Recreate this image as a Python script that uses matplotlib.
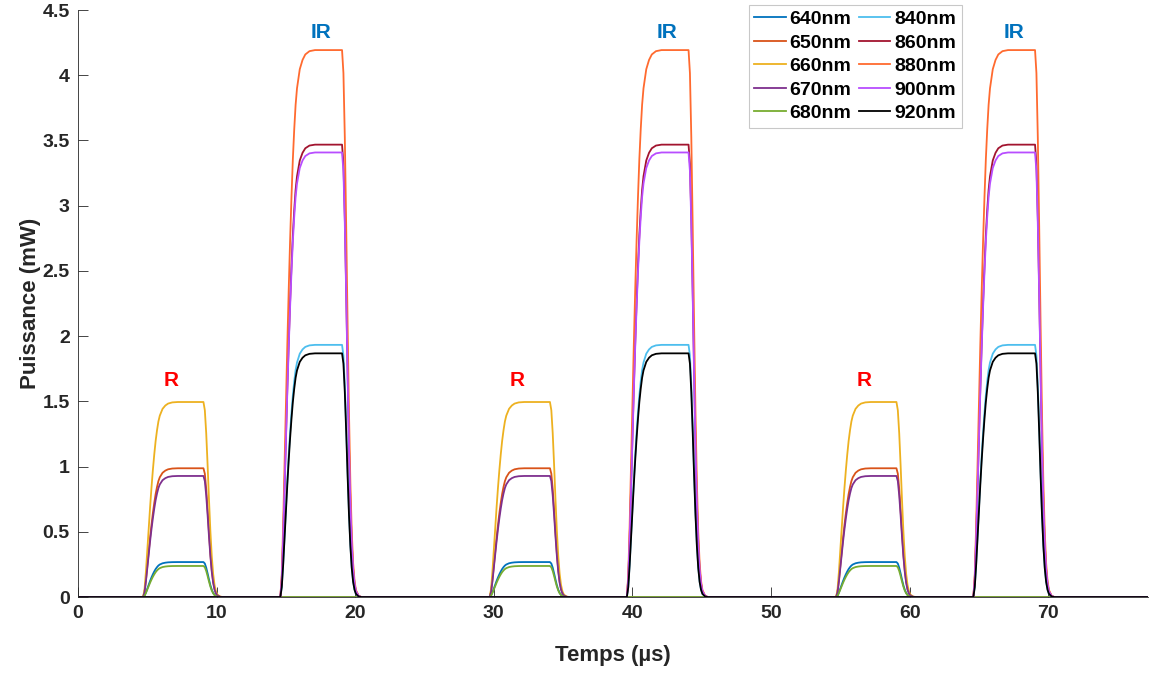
import numpy as np
import matplotlib
matplotlib.use('Agg')
import matplotlib.pyplot as plt

plt.rcParams['font.family'] = ['Liberation Sans', 'DejaVu Sans']
plt.rcParams['font.weight'] = 'bold'

# wavelengths and plateau powers (mW)
red_labels = ['640nm', '650nm', '660nm', '670nm', '680nm']
red_power = [0.268, 0.987, 1.495, 0.928, 0.238]
red_colors = ['#0072BD', '#D95319', '#EDB120', '#7E2F8E', '#77AC30']

ir_labels = ['840nm', '860nm', '880nm', '900nm', '920nm']
ir_power = [1.933, 3.468, 4.193, 3.408, 1.868]
ir_colors = ['#4DBEEE', '#A2142F', '#FF6A2F', '#B84DFF', '#000000']

# pulse timing (us)
period = 25.0
n_pulses = 3
red_on, red_off = 4.7, 9.05
ir_on, ir_off = 14.6, 19.05
t_end = 77.2

# normalised edge shapes (time offset in us, level)
rise_t = [0, 0.1, 0.2, 0.3, 0.4, 0.5, 0.6, 0.7, 0.8, 0.9, 1.0, 1.1, 1.2, 1.4, 1.6, 1.8, 2.1, 2.5]
rise_v = [0, 0.04, 0.13, 0.24, 0.35, 0.46, 0.56, 0.65, 0.73, 0.8, 0.855, 0.9, 0.93, 0.965, 0.982, 0.992, 0.998, 1.0]
fall_t = [0, 0.1, 0.2, 0.3, 0.4, 0.5, 0.6, 0.7, 0.8, 0.9, 1.0, 1.2, 1.4]
fall_v = [1, 0.958, 0.84, 0.677, 0.5, 0.338, 0.21, 0.119, 0.062, 0.03, 0.013, 0.002, 0]

# annotation positions
r_text_x = [6.7, 31.7, 56.7]
ir_text_x = [17.5, 42.5, 67.5]


def pulse_train(t_on, t_off, amp):
    ts = [0.0]
    vs = [0.0]
    for k in range(n_pulses):
        start = t_on + k * period
        stop = t_off + k * period
        for dt, v in zip(rise_t, rise_v):
            ts.append(start + dt)
            vs.append(amp * v)
        for dt, v in zip(fall_t, fall_v):
            ts.append(stop + dt)
            vs.append(amp * v)
    ts.append(t_end)
    vs.append(0.0)
    return ts, vs


fig = plt.figure(figsize=(11.54, 6.73), dpi=100)
ax = fig.add_axes([0.0676, 0.1129, 0.9272, 0.8722])

for lab, p, c in zip(red_labels, red_power, red_colors):
    t, v = pulse_train(red_on, red_off, p)
    ax.plot(t, v, color=c, lw=1.3, label=lab)
for lab, p, c in zip(ir_labels, ir_power, ir_colors):
    t, v = pulse_train(ir_on, ir_off, p)
    ax.plot(t, v, color=c, lw=1.3, label=lab)

for x in r_text_x:
    ax.text(x, 1.66, 'R', color='#FF0000', fontsize=15, fontweight='bold', ha='center', va='center')
for x in ir_text_x:
    ax.text(x, 4.33, 'IR', color='#0072BD', fontsize=15, fontweight='bold', ha='center', va='center')

ax.set_xlim(0, t_end)
ax.set_ylim(0, 4.5)
ax.set_xticks(np.arange(0, 80, 10))
ax.set_yticks(np.arange(0, 4.51, 0.5))
ax.set_yticklabels(['0', '0.5', '1', '1.5', '2', '2.5', '3', '3.5', '4', '4.5'])
ax.tick_params(direction='in', length=7, width=0.6, colors='#262626', labelsize=14, pad=6)
for lbl in ax.get_xticklabels() + ax.get_yticklabels():
    lbl.set_fontweight('bold')
ax.spines['top'].set_visible(False)
ax.spines['right'].set_visible(False)
ax.spines['left'].set_color('#262626')
ax.spines['bottom'].set_color('#262626')
ax.spines['left'].set_linewidth(0.6)
ax.spines['bottom'].set_linewidth(0.6)

ax.set_xlabel('Temps (µs)', fontsize=16, fontweight='bold', color='#262626', labelpad=16)
ax.set_ylabel('Puissance (mW)', fontsize=16, fontweight='bold', color='#262626', labelpad=1)

leg = ax.legend(ncol=2, loc='upper right', bbox_to_anchor=(0.826, 1.009),
                fontsize=14, frameon=True, fancybox=False, edgecolor='#BBBBBB',
                handlelength=1.6, handletextpad=0.2, columnspacing=0.4,
                labelspacing=0.3, borderpad=0.3, borderaxespad=0)
leg.get_frame().set_linewidth(0.8)
for txt in leg.get_texts():
    txt.set_fontweight('bold')

fig.savefig('out.png', dpi=100)
